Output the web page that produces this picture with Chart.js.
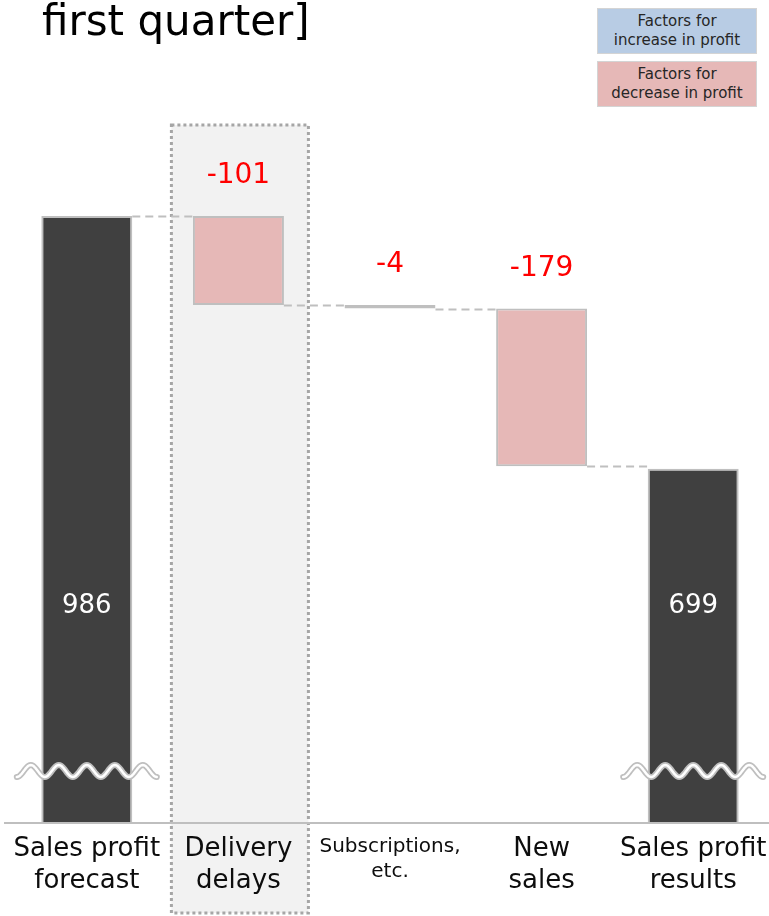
<!DOCTYPE html>
<html>
<head>
<meta charset="utf-8">
<script src="https://cdn.jsdelivr.net/npm/chart.js@4.4.1/dist/chart.umd.min.js"></script>
<style>
    body { margin: 0; background: #fff; }
    #wrap { position: relative; width: 769px; height: 916px; overflow: hidden; font-family: "DejaVu Sans", sans-serif; }
    #chart { position: absolute; left: 0; top: 0; }
    .title { position: absolute; left: 42px; top: 0; font-size: 42px; line-height: 42px; color: #000; white-space: nowrap; }
    .key { position: absolute; left: 597px; width: 158px; height: 44px; border: 1px solid #d4d4d4;
           font-size: 15px; line-height: 19px; color: #262626; text-align: center;
           display: flex; align-items: center; justify-content: center; }
    .key.up { top: 8px; background: #b8cce4; }
    .key.down { top: 61px; background: #e6b8b7; }
</style>
</head>
<body>
<div id="wrap">
    <canvas id="chart" width="769" height="916"></canvas>
    <div class="title">first quarter]</div>
    <div class="key up">Factors for<br>increase in profit</div>
    <div class="key down">Factors for<br>decrease in profit</div>
</div>
<script>
// Profit bridge: forecast -> changes -> results
const categories = [
    ["Sales profit", "forecast"],
    ["Delivery", "delays"],
    ["Subscriptions,", "etc."],
    ["New", "sales"],
    ["Sales profit", "results"]
];
const totals = [986, null, null, null, 699];
const changes = [null, -101, -4, -179, null];

const FONT = "DejaVu Sans";
const DARK = "#404040";
const DOWN = "#e6b8b7";
const UP = "#b8cce4";
const EDGE = "#bfbfbf";

// floating ranges for the change bars, plain values for the totals
let running = 0;
const levels = [];
const barData = categories.map((c, i) => {
    if (totals[i] !== null) {
        running = totals[i];
        levels.push(running);
        return totals[i];
    }
    const start = running;
    running += changes[i];
    levels.push(running);
    return [start, running];
});

function drawBreak(ctx, cx, cy) {
    ctx.beginPath();
    for (let dx = -70; dx <= 70; dx++) {
        const y = cy + 6 * Math.cos(2 * Math.PI * (dx + 70) / 28);
        if (dx === -70) ctx.moveTo(cx + dx, y); else ctx.lineTo(cx + dx, y);
    }
    ctx.lineCap = "round";
    ctx.strokeStyle = EDGE;
    ctx.lineWidth = 6;
    ctx.stroke();
    ctx.strokeStyle = "#ffffff";
    ctx.lineWidth = 2.5;
    ctx.stroke();
}

const bridgeDecor = {
    id: "bridgeDecor",
    beforeDraw(chart) {
        // shaded, dotted frame around the delivery delays column
        const ctx = chart.ctx;
        const cx = chart.scales.x.getPixelForValue(1);
        ctx.save();
        ctx.fillStyle = "#f2f2f2";
        ctx.fillRect(cx - 67, 125, 137, 788);
        ctx.setLineDash([3, 3]);
        ctx.lineWidth = 3;
        ctx.strokeStyle = "#a6a6a6";
        ctx.strokeRect(cx - 67, 125, 137, 788);
        ctx.restore();
    },
    afterDatasetsDraw(chart) {
        const ctx = chart.ctx;
        const area = chart.chartArea;
        const y = chart.scales.y;
        const bars = chart.getDatasetMeta(0).data;
        ctx.save();

        // axis line
        ctx.strokeStyle = EDGE;
        ctx.lineWidth = 2;
        ctx.beginPath();
        ctx.moveTo(4, area.bottom);
        ctx.lineTo(chart.width, area.bottom);
        ctx.stroke();

        // dashed connectors between neighbouring bars
        ctx.setLineDash([8, 5]);
        for (let i = 0; i < bars.length - 1; i++) {
            const py = Math.round(y.getPixelForValue(levels[i])) + 0.5;
            ctx.beginPath();
            ctx.moveTo(bars[i].x + bars[i].width / 2, py);
            ctx.lineTo(bars[i + 1].x - bars[i + 1].width / 2, py);
            ctx.stroke();
        }
        ctx.setLineDash([]);

        // axis breaks on the total bars
        bars.forEach((bar, i) => {
            if (totals[i] !== null) drawBreak(ctx, bar.x, area.bottom - 52);
        });

        // value labels
        ctx.textAlign = "center";
        ctx.textBaseline = "middle";
        bars.forEach((bar, i) => {
            if (totals[i] !== null) {
                ctx.fillStyle = "#ffffff";
                ctx.font = "26px " + FONT;
                ctx.fillText(String(totals[i]), bar.x, area.bottom - 217);
            } else {
                ctx.fillStyle = "#ff0000";
                ctx.font = "28px " + FONT;
                const top = Math.min(bar.y, bar.base);
                ctx.fillText(String(changes[i]), bar.x, top - 40);
            }
        });
        ctx.restore();
    }
};

new Chart(document.getElementById("chart"), {
    type: "bar",
    data: {
        labels: categories,
        datasets: [{
            data: barData,
            backgroundColor: categories.map((c, i) => totals[i] !== null ? DARK : (changes[i] < 0 ? DOWN : UP)),
            borderColor: EDGE,
            borderWidth: 2,
            borderSkipped: false,
            barPercentage: 0.6,
            categoryPercentage: 1
        }]
    },
    options: {
        responsive: false,
        animation: false,
        devicePixelRatio: 1,
        layout: { padding: { left: 11, right: 0, top: 120, bottom: 0 } },
        plugins: {
            legend: { display: false },
            tooltip: { enabled: false }
        },
        scales: {
            x: {
                grid: { display: false, drawTicks: false },
                border: { display: false },
                ticks: {
                    padding: 11,
                    color: "#0d0d0d",
                    maxRotation: 0,
                    autoSkip: false,
                    font: (ctx) => ctx.index === 2
                        ? { family: FONT, size: 20, lineHeight: 1.25 }
                        : { family: FONT, size: 26, lineHeight: 1.2 }
                },
                afterFit(scale) {
                    scale.height = 93;
                    // labels may overhang the edges; keep the full width for bars
                    scale.paddingLeft = 0;
                    scale.paddingRight = 0;
                }
            },
            y: {
                display: false,
                min: 297,
                max: 1095
            }
        }
    },
    plugins: [bridgeDecor]
});
</script>
</body>
</html>
